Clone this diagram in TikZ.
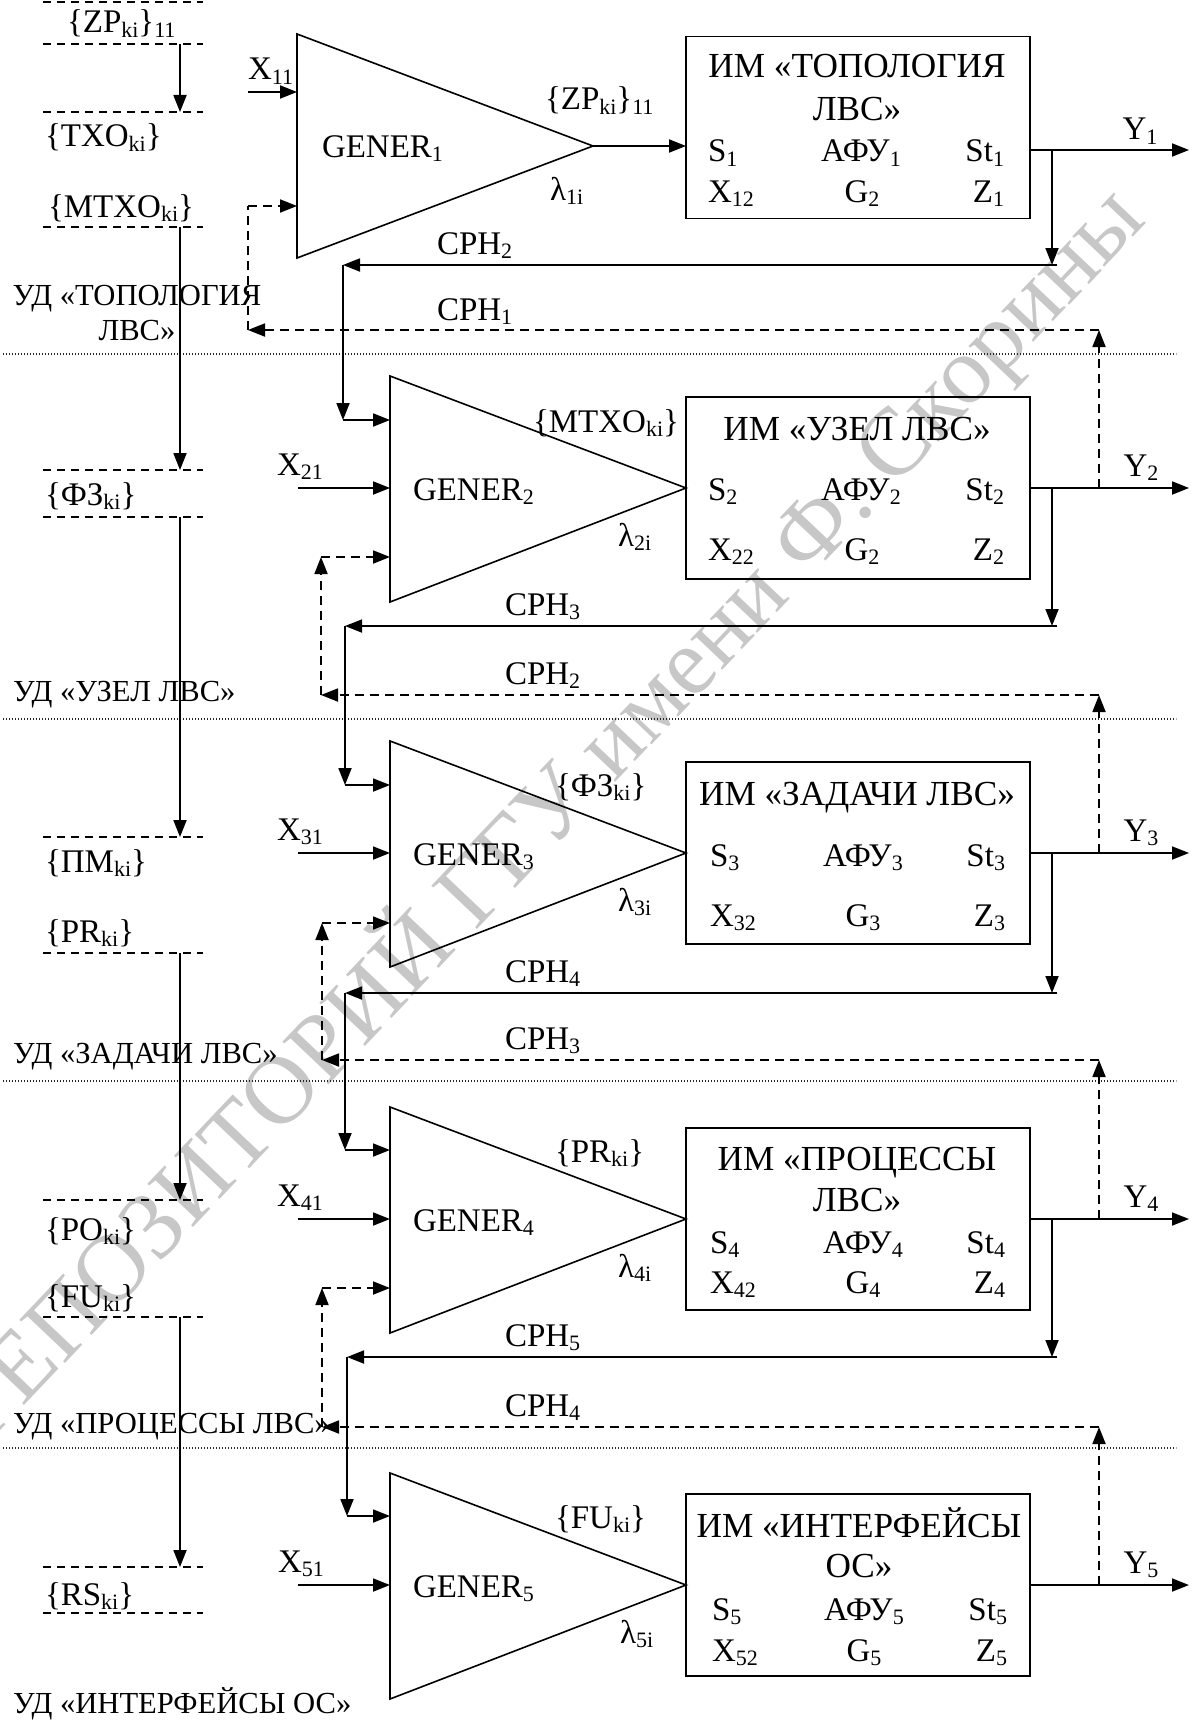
\documentclass[tikz,border=0pt]{standalone}
\usepackage{fontspec}
\setmainfont{Liberation Serif}
\usetikzlibrary{arrows.meta,calc}
\newcommand\fs{\fontsize{16.5}{19}\selectfont}
\newcommand\fst{\fontsize{17.6}{19}\selectfont}
\newcommand\fsu{\fontsize{15.3}{18}\selectfont}
\newcommand\fwm{\fontsize{48}{48}\selectfont}
\newcommand\lo[1]{\raisebox{-2.2pt}{\fontsize{11}{11}\selectfont #1}}
\begin{document}
\begin{tikzpicture}[x=0.5pt,y=-0.5pt,
  txt/.style={font=\fs, inner sep=0pt, outer sep=0pt},
  ttl/.style={font=\fst, inner sep=0pt, outer sep=0pt},
  udl/.style={font=\fsu, inner sep=0pt, outer sep=0pt},
  ln/.style={line width=0.9pt},
  arr/.style={ln, -{Triangle[length=8.5pt,width=6.5pt]}},
  dsh/.style={ln, dash pattern=on 4.5pt off 3pt},
  darr/.style={dsh, -{Triangle[length=8.5pt,width=6.5pt]}},
  dshl/.style={line width=0.8pt, dash pattern=on 4pt off 3pt},
  sep/.style={line width=0.55pt, dash pattern=on 0.6pt off 0.9pt, black!85},
  tri/.style={line width=0.8pt},
  box/.style={draw, line width=0.9pt, minimum width=172pt, minimum height=91pt, inner sep=0pt, outer sep=0pt},
  wm/.style={font=\fwm, text=black!22, inner sep=0pt, outer sep=0pt}
]
\useasboundingbox (0,0) rectangle (1200,1723);

% watermark
\node[wm, rotate=46.5, anchor=base east] (wmark) at (1148,222) {РЕПОЗИТОРИЙ ГГУ имени Ф. Скорины};

% separators
\foreach \y in {354,719,1081,1448} \draw[sep] (3,\y) -- (1176,\y);

% left column dashed lines
\foreach \y in {2,44,112,227,470,517,837,953,1200,1317,1567,1613} \draw[dshl] (43,\y) -- (203,\y);
\coordinate (a1s) at (180,44);   \coordinate (a1e) at (180,112);
\coordinate (a2s) at (180,227);  \coordinate (a2e) at (180,470);
\coordinate (a3s) at (180,517);  \coordinate (a3e) at (180,837);
\coordinate (a4s) at (180,953);  \coordinate (a4e) at (180,1200);
\coordinate (a5s) at (180,1317); \coordinate (a5e) at (180,1567);
\foreach \i in {1,...,5} \draw[arr] (a\i s) -- (a\i e);

\node[txt, anchor=base west] (lzp) at (67,33) {\{ZP\lo{ki}\}\lo{11}};
\node[txt, anchor=base west] (ltxo) at (45,147) {\{TXO\lo{ki}\}};
\node[txt, anchor=base west] (lmtxo) at (48,217) {\{MTXO\lo{ki}\}};
\node[txt, anchor=base west] (lfz) at (45,505) {\{ФЗ\lo{ki}\}};
\node[txt, anchor=base west] (lpm) at (45,872) {\{ПМ\lo{ki}\}};
\node[txt, anchor=base west] (lpr) at (45,942) {\{PR\lo{ki}\}};
\node[txt, anchor=base west] (lpo) at (45,1240) {\{PO\lo{ki}\}};
\node[txt, anchor=base west] (lfu) at (45,1307) {\{FU\lo{ki}\}};
\node[txt, anchor=base west] (lrs) at (45,1605) {\{RS\lo{ki}\}};

\node[udl, anchor=base] (ud1a) at (137,305) {УД «ТОПОЛОГИЯ};
\node[udl, anchor=base] (ud1b) at (137,340) {ЛВС»};
\node[udl, anchor=base west] (ud2) at (13,701) {УД «УЗЕЛ ЛВС»};
\node[udl, anchor=base west] (ud3) at (13,1063) {УД «ЗАДАЧИ ЛВС»};
\node[udl, anchor=base west] (ud4) at (13,1433) {УД «ПРОЦЕССЫ ЛВС»};
\node[udl, anchor=base west] (ud5) at (13,1713) {УД «ИНТЕРФЕЙСЫ ОС»};

% triangles (GENER)
\coordinate (T1t) at (297,34);  \coordinate (T1a) at (593,146);  \coordinate (T1b) at (297,258);
\coordinate (T2t) at (390,376); \coordinate (T2a) at (686,488);  \coordinate (T2b) at (390,602);
\coordinate (T3t) at (390,741); \coordinate (T3a) at (686,853);  \coordinate (T3b) at (390,967);
\coordinate (T4t) at (390,1107);\coordinate (T4a) at (686,1219); \coordinate (T4b) at (390,1333);
\coordinate (T5t) at (390,1473);\coordinate (T5a) at (686,1585); \coordinate (T5b) at (390,1699);
\foreach \i in {1,...,5} \draw[tri] (T\i t) -- (T\i a) -- (T\i b) -- cycle;

\node[txt, anchor=base west] (g1) at (322,157) {GENER\lo{1}};
\node[txt, anchor=base west] (g2) at (413,500) {GENER\lo{2}};
\node[txt, anchor=base west] (g3) at (413,865) {GENER\lo{3}};
\node[txt, anchor=base west] (g4) at (413,1231) {GENER\lo{4}};
\node[txt, anchor=base west] (g5) at (413,1597) {GENER\lo{5}};

\node[txt, anchor=base west] (o1) at (545,110) {\{ZP\lo{ki}\}\lo{11}};
\node[txt, anchor=base west] (o2) at (533,432) {\{MTXO\lo{ki}\}};
\node[txt, anchor=base west] (o3) at (555,796) {\{ФЗ\lo{ki}\}};
\node[txt, anchor=base west] (o4) at (555,1162) {\{PR\lo{ki}\}};
\node[txt, anchor=base west] (o5) at (555,1528) {\{FU\lo{ki}\}};

\node[txt, anchor=base west] (l1) at (550,200) {λ\lo{1i}};
\node[txt, anchor=base west] (l2) at (618,546) {λ\lo{2i}};
\node[txt, anchor=base west] (l3) at (618,911) {λ\lo{3i}};
\node[txt, anchor=base west] (l4) at (618,1277) {λ\lo{4i}};
\node[txt, anchor=base west] (l5) at (620,1643) {λ\lo{5i}};

% boxes (IM)
\node[box] (B1) at (858,127.5) {};
\node[box] (B2) at (858,488) {};
\node[box] (B3) at (858,853) {};
\node[box] (B4) at (858,1219) {};
\node[box] (B5) at (858,1585) {};

\node[ttl, anchor=base] (B1t1) at (857,78) {ИМ «ТОПОЛОГИЯ};
\node[ttl, anchor=base] (B1t2) at (857,120) {ЛВС»};
\node[txt, anchor=base west] (B1s) at (708,162) {S\lo{1}};
\node[txt, anchor=base] (B1f) at (861,162) {АФУ\lo{1}};
\node[txt, anchor=base east] (B1st) at (1004,162) {St\lo{1}};
\node[txt, anchor=base west] (B1x) at (708,202) {X\lo{12}};
\node[txt, anchor=base] (B1g) at (862,202) {G\lo{2}};
\node[txt, anchor=base east] (B1z) at (1004,202) {Z\lo{1}};

\node[ttl, anchor=base] (B2t1) at (857,440) {ИМ «УЗЕЛ ЛВС»};
\node[txt, anchor=base west] (B2s) at (708,500) {S\lo{2}};
\node[txt, anchor=base] (B2f) at (861,500) {АФУ\lo{2}};
\node[txt, anchor=base east] (B2st) at (1004,500) {St\lo{2}};
\node[txt, anchor=base west] (B2x) at (708,560) {X\lo{22}};
\node[txt, anchor=base] (B2g) at (862,560) {G\lo{2}};
\node[txt, anchor=base east] (B2z) at (1004,560) {Z\lo{2}};

\node[ttl, anchor=base] (B3t1) at (857,805) {ИМ «ЗАДАЧИ ЛВС»};
\node[txt, anchor=base west] (B3s) at (710,866) {S\lo{3}};
\node[txt, anchor=base] (B3f) at (863,866) {АФУ\lo{3}};
\node[txt, anchor=base east] (B3st) at (1005,866) {St\lo{3}};
\node[txt, anchor=base west] (B3x) at (710,926) {X\lo{32}};
\node[txt, anchor=base] (B3g) at (863,926) {G\lo{3}};
\node[txt, anchor=base east] (B3z) at (1005,926) {Z\lo{3}};

\node[ttl, anchor=base] (B4t1) at (857,1170) {ИМ «ПРОЦЕССЫ};
\node[ttl, anchor=base] (B4t2) at (857,1211) {ЛВС»};
\node[txt, anchor=base west] (B4s) at (710,1253) {S\lo{4}};
\node[txt, anchor=base] (B4f) at (863,1253) {АФУ\lo{4}};
\node[txt, anchor=base east] (B4st) at (1005,1253) {St\lo{4}};
\node[txt, anchor=base west] (B4x) at (710,1293) {X\lo{42}};
\node[txt, anchor=base] (B4g) at (863,1293) {G\lo{4}};
\node[txt, anchor=base east] (B4z) at (1005,1293) {Z\lo{4}};

\node[ttl, anchor=base] (B5t1) at (859,1537) {ИМ «ИНТЕРФЕЙСЫ};
\node[ttl, anchor=base] (B5t2) at (859,1577) {ОС»};
\node[txt, anchor=base west] (B5s) at (712,1620) {S\lo{5}};
\node[txt, anchor=base] (B5f) at (864,1620) {АФУ\lo{5}};
\node[txt, anchor=base east] (B5st) at (1007,1620) {St\lo{5}};
\node[txt, anchor=base west] (B5x) at (712,1661) {X\lo{52}};
\node[txt, anchor=base] (B5g) at (864,1661) {G\lo{5}};
\node[txt, anchor=base east] (B5z) at (1007,1661) {Z\lo{5}};

% external inputs X
\coordinate (x1) at (248,92);
\coordinate (x2) at (298,488);
\coordinate (x3) at (298,853);
\coordinate (x4) at (298,1219);
\coordinate (x5) at (298,1585);
\foreach \i in {1,...,5} \draw[arr] (x\i) -- (x\i -| T\i t);
\node[txt, anchor=base west] (X11) at (248,80) {X\lo{11}};
\node[txt, anchor=base west] (X21) at (277,475) {X\lo{21}};
\node[txt, anchor=base west] (X31) at (277,840) {X\lo{31}};
\node[txt, anchor=base west] (X41) at (277,1206) {X\lo{41}};
\node[txt, anchor=base west] (X51) at (278,1572) {X\lo{51}};

% GENER1 -> IM1
\draw[arr] (T1a) -- (T1a -| B1.west);

% outputs Y
\coordinate (y1) at (1189,150);
\coordinate (y2) at (1189,488);
\coordinate (y3) at (1189,853);
\coordinate (y4) at (1189,1219);
\coordinate (y5) at (1189,1585);
\foreach \i in {1,...,5} \draw[arr] (B\i.east |- y\i) -- (y\i);
\node[txt, anchor=base] (Y1) at (1140,140) {Y\lo{1}};
\node[txt, anchor=base] (Y2) at (1141,476) {Y\lo{2}};
\node[txt, anchor=base] (Y3) at (1141,841) {Y\lo{3}};
\node[txt, anchor=base] (Y4) at (1141,1207) {Y\lo{4}};
\node[txt, anchor=base] (Y5) at (1141,1573) {Y\lo{5}};

% feedback CPH (solid): Y_k -> top input of GENER_{k+1}
\coordinate (b1) at (1052,150);  \coordinate (c2r) at (1057,265);  \coordinate (c2l) at (343,265);  \coordinate (i2t) at (343,420);
\coordinate (b2) at (1052,488);  \coordinate (c3r) at (1057,626);  \coordinate (c3l) at (345,626);  \coordinate (i3t) at (345,785);
\coordinate (b3) at (1052,853);  \coordinate (c4r) at (1057,993);  \coordinate (c4l) at (345,993);  \coordinate (i4t) at (345,1150);
\coordinate (b4) at (1052,1219); \coordinate (c5r) at (1057,1357); \coordinate (c5l) at (347,1357); \coordinate (i5t) at (347,1516);
\foreach \i/\j in {1/2,2/3,3/4,4/5} {
  \draw[arr] (b\i) -- (b\i |- c\j r);
  \draw[arr] (c\j r) -- (c\j l);
  \draw[arr] (c\j l) -- (i\j t);
  \draw[arr] (i\j t) -- (i\j t -| T\j t);
}
% feedback CPH (dashed): Y_{k+1} -> bottom input of GENER_k
\coordinate (u2) at (1099,488);  \coordinate (d1r) at (1099,330);  \coordinate (d1l) at (248,330);  \coordinate (i1b) at (248,206);
\coordinate (u3) at (1099,853);  \coordinate (d2r) at (1099,695);  \coordinate (d2l) at (321,695);  \coordinate (i2b) at (321,557);
\coordinate (u4) at (1099,1219); \coordinate (d3r) at (1099,1060); \coordinate (d3l) at (322,1060); \coordinate (i3b) at (322,923);
\coordinate (u5) at (1099,1585); \coordinate (d4r) at (1099,1427); \coordinate (d4l) at (322,1427); \coordinate (i4b) at (322,1288);
\foreach \i/\j in {1/2,2/3,3/4,4/5} {
  \draw[darr] (u\j) -- (d\i r);
  \draw[darr] (d\i r) -- (d\i l);
  \draw[darr] (i\i b) -- (i\i b -| T\i t);
}
\draw[dsh] (d1l) -- (i1b);
\foreach \i in {2,3,4} \draw[darr] (d\i l) -- (i\i b);

% CPH labels
\node[txt, anchor=base west] (cph2a) at (437,254) {CPH\lo{2}};
\node[txt, anchor=base west] (cph1a) at (437,320) {CPH\lo{1}};
\node[txt, anchor=base west] (cph3b) at (505,615) {CPH\lo{3}};
\node[txt, anchor=base west] (cph2b) at (505,684) {CPH\lo{2}};
\node[txt, anchor=base west] (cph4c) at (505,982) {CPH\lo{4}};
\node[txt, anchor=base west] (cph3c) at (505,1049) {CPH\lo{3}};
\node[txt, anchor=base west] (cph5d) at (505,1346) {CPH\lo{5}};
\node[txt, anchor=base west] (cph4d) at (505,1416) {CPH\lo{4}};
\end{tikzpicture}
\end{document}
